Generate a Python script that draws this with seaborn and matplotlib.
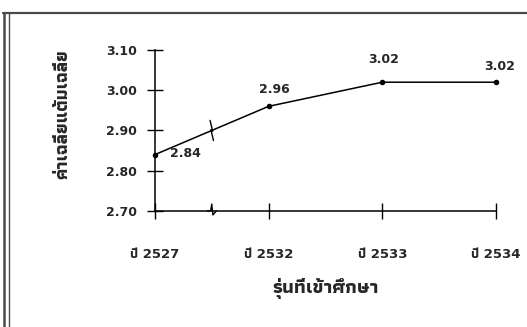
import matplotlib
matplotlib.use("Agg")
import matplotlib.pyplot as plt
import seaborn as sns
import pandas as pd
from matplotlib import font_manager, ft2font
from matplotlib.lines import Line2D

# data
years = ["ปี 2527", "ปี 2532", "ปี 2533", "ปี 2534"]
gpa = [2.84, 2.96, 3.02, 3.02]
yticks = [2.70, 2.80, 2.90, 3.00, 3.10]
xlabel = "รุ่นที่เข้าศึกษา"
ylabel = "ค่าเฉลี่ยแต้มเฉลี่ย"

df = pd.DataFrame({"year": years, "gpa": gpa})
df["pos"] = range(len(df))

sns.set_style("white")

# find an installed font with Thai glyphs, prefer one that has a bold face
thai = {}
for f in font_manager.fontManager.ttflist:
    try:
        if 0x0E01 in ft2font.FT2Font(f.fname).get_charmap():
            w = f.weight if isinstance(f.weight, int) else 400
            thai.setdefault(f.name, set()).add(w)
    except Exception:
        pass
names = sorted(thai, key=lambda n: (max(thai[n]) < 600, n))
thai_font = names[:1]
plt.rcParams["font.family"] = ["DejaVu Sans"] + thai_font

fig = plt.figure(figsize=(5.27, 3.27), dpi=100)
ax = fig.add_axes([0.294, 0.355, 0.647, 0.492])

sns.lineplot(data=df, x="pos", y="gpa", ax=ax, color="black", lw=1.1,
             marker="o", markersize=4, markeredgewidth=0, clip_on=False)

ax.set_xlim(0, 3)
ax.set_ylim(2.70, 3.10)
ax.set_xticks(df["pos"])
ax.set_xticklabels(years, fontsize=9.5, fontweight="bold")
ax.set_yticks(yticks)
ax.set_yticklabels([f"{v:.2f}" for v in yticks], fontsize=9, fontweight="bold")
ax.tick_params(axis="both", direction="inout", length=12, width=1, color="black",
               bottom=True, left=True)
ax.tick_params(axis="x", pad=21)
ax.tick_params(axis="y", pad=7)
for s in ["top", "right"]:
    ax.spines[s].set_visible(False)
for s in ["left", "bottom"]:
    ax.spines[s].set_color("black")
    ax.spines[s].set_linewidth(1.1)

ax.set_xlabel(xlabel, fontsize=14, fontweight="bold", labelpad=12)
ax.set_ylabel(ylabel, fontsize=13, fontweight="bold")
ax.yaxis.set_label_coords(-0.245, 0.6)

# value labels
offsets = [(11, 1), (4, 12), (1, 16), (3, 11)]
for (x, y), (dx, dy) in zip(zip(df["pos"], df["gpa"]), offsets):
    ax.annotate(f"{y:.2f}", (x, y), xytext=(dx, dy), textcoords="offset points",
                ha="left" if dx > 8 else "center", va="center",
                fontsize=9, fontweight="bold")

# axis break marks between the first two categories
mx = 0.5
my = (gpa[0] + gpa[1]) / 2
ax.plot([mx - 0.015, mx + 0.008, mx - 0.008, mx + 0.015],
        [my + 0.025, my - 0.002, my + 0.002, my - 0.025], color="black", lw=1)
ax.plot([mx - 0.05, mx + 0.05], [2.70, 2.70], color="white", lw=2.5, clip_on=False)
ax.plot([mx - 0.04, mx - 0.01, mx, mx + 0.01, mx + 0.04],
        [2.70, 2.70, 2.717, 2.69, 2.70], color="black", lw=1, clip_on=False)

# scanned-page frame
fig.add_artist(Line2D([0.005, 1], [0.96, 0.96], color="#4a4a4a", lw=1.6))
fig.add_artist(Line2D([0.008, 0.008], [0, 0.96], color="#4a4a4a", lw=1.8))
fig.add_artist(Line2D([0.018, 0.018], [0, 0.96], color="#4a4a4a", lw=1.0))

fig.savefig("out.png", dpi=100)
